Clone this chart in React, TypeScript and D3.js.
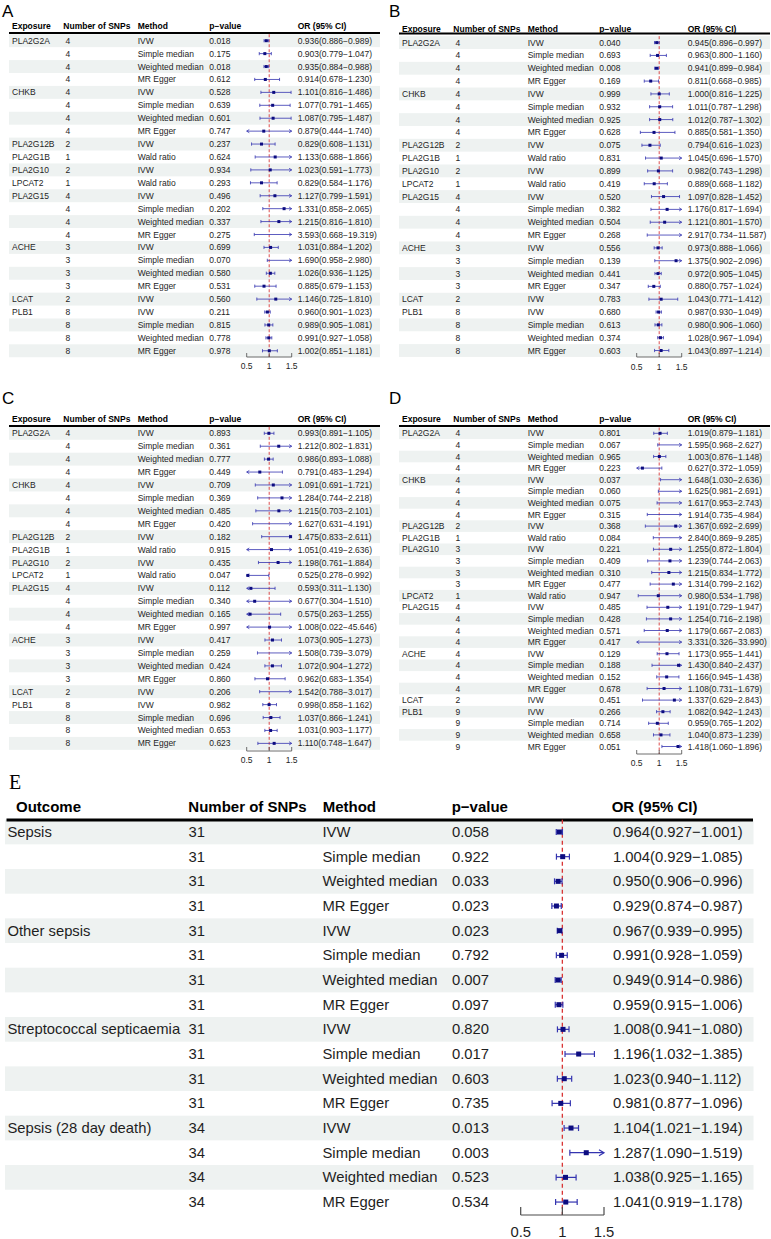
import React from "react";
import * as d3 from "d3";

/* DATA */
const xDomain = [0.5, 1.5];
const axisTicks = [0.5, 1, 1.5];
const headersAD = ["Exposure", "Number of SNPs", "Method", "p\u2212value", "OR (95% CI)"];
const headersE = ["Outcome", "Number of SNPs", "Method", "p\u2212value", "OR (95% CI)"];

// panels A, B, C share the same exposure / method layout
const abcExposure = ["PLA2G2A", "", "", "", "CHKB", "", "", "", "PLA2G12B", "PLA2G1B", "PLA2G10", "LPCAT2", "PLA2G15", "", "", "", "ACHE", "", "", "", "LCAT", "PLB1", "", "", ""];
const abcSnps = [4, 4, 4, 4, 4, 4, 4, 4, 2, 1, 2, 1, 4, 4, 4, 4, 3, 3, 3, 3, 2, 8, 8, 8, 8];
const abcMethod = ["IVW", "Simple median", "Weighted median", "MR Egger", "IVW", "Simple median", "Weighted median", "MR Egger", "IVW", "Wald ratio", "IVW", "Wald ratio", "IVW", "Simple median", "Weighted median", "MR Egger", "IVW", "Simple median", "Weighted median", "MR Egger", "IVW", "IVW", "Simple median", "Weighted median", "MR Egger"];

const aP = [0.018, 0.175, 0.018, 0.612, 0.528, 0.639, 0.601, 0.747, 0.237, 0.624, 0.934, 0.293, 0.496, 0.202, 0.337, 0.275, 0.699, 0.070, 0.580, 0.531, 0.560, 0.211, 0.815, 0.778, 0.978];
const aOr = [0.936, 0.903, 0.935, 0.914, 1.101, 1.077, 1.087, 0.879, 0.829, 1.133, 1.023, 0.829, 1.127, 1.331, 1.215, 3.593, 1.031, 1.690, 1.026, 0.885, 1.146, 0.960, 0.989, 0.991, 1.002];
const aLo = [0.886, 0.779, 0.884, 0.678, 0.816, 0.791, 0.795, 0.444, 0.608, 0.688, 0.591, 0.584, 0.799, 0.858, 0.816, 0.668, 0.884, 0.958, 0.936, 0.679, 0.725, 0.901, 0.905, 0.927, 0.851];
const aHi = [0.989, 1.047, 0.988, 1.230, 1.486, 1.465, 1.487, 1.740, 1.131, 1.866, 1.773, 1.176, 1.591, 2.065, 1.810, 19.319, 1.202, 2.980, 1.125, 1.153, 1.810, 1.023, 1.081, 1.058, 1.181];

const bP = [0.040, 0.693, 0.008, 0.169, 0.999, 0.932, 0.925, 0.628, 0.075, 0.831, 0.899, 0.419, 0.520, 0.382, 0.504, 0.268, 0.556, 0.139, 0.441, 0.347, 0.783, 0.680, 0.613, 0.374, 0.603];
const bOr = [0.945, 0.963, 0.941, 0.811, 1.000, 1.011, 1.012, 0.885, 0.794, 1.045, 0.982, 0.889, 1.097, 1.176, 1.121, 2.917, 0.973, 1.375, 0.972, 0.880, 1.043, 0.987, 0.980, 1.028, 1.043];
const bLo = [0.896, 0.800, 0.899, 0.668, 0.816, 0.787, 0.787, 0.581, 0.616, 0.696, 0.743, 0.668, 0.828, 0.817, 0.801, 0.734, 0.888, 0.902, 0.905, 0.757, 0.771, 0.930, 0.906, 0.967, 0.897];
const bHi = [0.997, 1.160, 0.984, 0.985, 1.225, 1.298, 1.302, 1.350, 1.023, 1.570, 1.298, 1.182, 1.452, 1.694, 1.570, 11.587, 1.066, 2.096, 1.045, 1.024, 1.412, 1.049, 1.060, 1.094, 1.214];

const cP = [0.893, 0.361, 0.777, 0.449, 0.709, 0.369, 0.485, 0.420, 0.182, 0.915, 0.435, 0.047, 0.112, 0.340, 0.165, 0.997, 0.417, 0.259, 0.424, 0.860, 0.206, 0.982, 0.696, 0.653, 0.623];
const cOr = [0.993, 1.212, 0.986, 0.791, 1.091, 1.284, 1.215, 1.627, 1.475, 1.051, 1.198, 0.525, 0.593, 0.677, 0.575, 1.008, 1.073, 1.508, 1.072, 0.962, 1.542, 0.998, 1.037, 1.031, 1.110];
const cLo = [0.891, 0.802, 0.893, 0.483, 0.691, 0.744, 0.703, 0.631, 0.833, 0.419, 0.761, 0.278, 0.311, 0.304, 0.263, 0.022, 0.905, 0.739, 0.904, 0.683, 0.788, 0.858, 0.866, 0.903, 0.748];
const cHi = [1.105, 1.831, 1.088, 1.294, 1.721, 2.218, 2.101, 4.191, 2.611, 2.636, 1.884, 0.992, 1.130, 1.510, 1.255, 45.646, 1.273, 3.079, 1.272, 1.354, 3.017, 1.162, 1.241, 1.177, 1.647];

const dExposure = ["PLA2G2A", "", "", "", "CHKB", "", "", "", "PLA2G12B", "PLA2G1B", "PLA2G10", "", "", "", "LPCAT2", "PLA2G15", "", "", "", "ACHE", "", "", "", "LCAT", "PLB1", "", "", ""];
const dSnps = [4, 4, 4, 4, 4, 4, 4, 4, 2, 1, 3, 3, 3, 3, 1, 4, 4, 4, 4, 4, 4, 4, 4, 2, 9, 9, 9, 9];
const dMethod = ["IVW", "Simple median", "Weighted median", "MR Egger", "IVW", "Simple median", "Weighted median", "MR Egger", "IVW", "Wald ratio", "IVW", "Simple median", "Weighted median", "MR Egger", "Wald ratio", "IVW", "Simple median", "Weighted median", "MR Egger", "IVW", "Simple median", "Weighted median", "MR Egger", "IVW", "IVW", "Simple median", "Weighted median", "MR Egger"];
const dP = [0.801, 0.067, 0.965, 0.223, 0.037, 0.060, 0.075, 0.315, 0.368, 0.084, 0.221, 0.409, 0.310, 0.477, 0.947, 0.485, 0.428, 0.571, 0.417, 0.129, 0.188, 0.152, 0.678, 0.451, 0.266, 0.714, 0.658, 0.051];
const dOr = [1.019, 1.595, 1.003, 0.627, 1.648, 1.625, 1.617, 1.914, 1.367, 2.840, 1.255, 1.239, 1.215, 1.314, 0.980, 1.191, 1.254, 1.179, 3.331, 1.173, 1.430, 1.166, 1.108, 1.337, 1.082, 0.959, 1.040, 1.418];
const dLo = [0.879, 0.968, 0.876, 0.372, 1.030, 0.981, 0.953, 0.735, 0.692, 0.869, 0.872, 0.744, 0.834, 0.799, 0.534, 0.729, 0.716, 0.667, 0.326, 0.955, 0.840, 0.945, 0.731, 0.629, 0.942, 0.765, 0.873, 1.060];
const dHi = [1.181, 2.627, 1.148, 1.059, 2.636, 2.691, 2.743, 4.984, 2.699, 9.285, 1.804, 2.063, 1.772, 2.162, 1.798, 1.947, 2.198, 2.083, 33.990, 1.441, 2.437, 1.438, 1.679, 2.843, 1.243, 1.202, 1.239, 1.896];

const eOutcome = ["Sepsis", "", "", "", "Other sepsis", "", "", "", "Streptococcal septicaemia", "", "", "", "Sepsis (28 day death)", "", "", ""];
const eSnps = [31, 31, 31, 31, 31, 31, 31, 31, 31, 31, 31, 31, 34, 34, 34, 34];
const eMethod = ["IVW", "Simple median", "Weighted median", "MR Egger", "IVW", "Simple median", "Weighted median", "MR Egger", "IVW", "Simple median", "Weighted median", "MR Egger", "IVW", "Simple median", "Weighted median", "MR Egger"];
const eP = [0.058, 0.922, 0.033, 0.023, 0.023, 0.792, 0.007, 0.097, 0.820, 0.017, 0.603, 0.735, 0.013, 0.003, 0.523, 0.534];
const eOr = [0.964, 1.004, 0.950, 0.929, 0.967, 0.991, 0.949, 0.959, 1.008, 1.196, 1.023, 0.981, 1.104, 1.287, 1.038, 1.041];
const eLo = [0.927, 0.929, 0.906, 0.874, 0.939, 0.928, 0.914, 0.915, 0.941, 1.032, 0.940, 0.877, 1.021, 1.090, 0.925, 0.919];
const eHi = [1.001, 1.085, 0.996, 0.987, 0.995, 1.059, 0.986, 1.006, 1.080, 1.385, 1.112, 1.096, 1.194, 1.519, 1.165, 1.178];

/* STYLE */
const SANS = "'Liberation Sans', Arial, sans-serif";
const STRIPE = "#eef2f1";
const CI_COL = "#3434b0";
const BOX_COL = "#0c0c80";
const REF_COL = "#d93636";
const TXT = "#1e1e1e";

const f3 = d3.format(".3f");

interface Row {
  group: string;
  snps: number;
  method: string;
  p: number;
  or: number;
  lo: number;
  hi: number;
}

const makeRows = (g: string[], s: number[], m: string[], p: number[], or: number[], lo: number[], hi: number[]): Row[] =>
  d3.range(g.length).map((i) => ({ group: g[i], snps: s[i], method: m[i], p: p[i], or: or[i], lo: lo[i], hi: hi[i] }));

interface Cfg {
  headers: string[];
  hdrX: number[];
  bodyX: number[];
  headerY: number;
  lineY: number;
  lineX: [number, number];
  stripeX: [number, number];
  row0: number;
  step: number;
  axisY: number;
  labelY: number;
  plotX: [number, number];
  font: number;
  headFont: number;
  lineW: number;
  box: number;
  cap: number;
  arrow: number;
  ciW: number;
  tick: number;
  dash: string;
}

function Forest({ cfg, rows }: { cfg: Cfg; rows: Row[] }) {
  const x = d3.scaleLinear().domain(xDomain).range(cfg.plotX);
  const top = cfg.row0 - cfg.step / 2;
  const y = d3
    .scaleBand<number>()
    .domain(d3.range(rows.length))
    .range([top, top + rows.length * cfg.step]);
  const bw = y.bandwidth();
  const [lo0, hi0] = xDomain;
  const a = cfg.arrow;
  const c = cfg.cap;

  return (
    <g fontFamily={SANS}>
      {/* header */}
      {cfg.headers.map((h, i) => (
        <text key={h} x={cfg.hdrX[i]} y={cfg.headerY} fontSize={cfg.headFont} fontWeight="bold" fill="#000" dominantBaseline="central">
          {h}
        </text>
      ))}
      {/* stripes */}
      {rows.map((r, i) =>
        i % 2 === 0 ? (
          <rect key={"s" + i} x={cfg.stripeX[0]} y={y(i)} width={cfg.stripeX[1] - cfg.stripeX[0]} height={bw} fill={STRIPE} />
        ) : null
      )}
      <line x1={cfg.lineX[0]} x2={cfg.lineX[1]} y1={cfg.lineY} y2={cfg.lineY} stroke="#000" strokeWidth={cfg.lineW} />
      {/* text cells */}
      {rows.map((r, i) => {
        const cy = (y(i) as number) + bw / 2;
        const cells = [r.group, String(r.snps), r.method, f3(r.p), `${f3(r.or)}(${f3(r.lo)}\u2212${f3(r.hi)})`];
        return (
          <g key={"t" + i} fontSize={cfg.font} fill={TXT}>
            {cells.map((t, j) => (
              <text key={j} x={cfg.bodyX[j]} y={cy} dominantBaseline="central">
                {t}
              </text>
            ))}
          </g>
        );
      })}
      {/* reference line */}
      <line x1={x(1)} x2={x(1)} y1={top} y2={cfg.axisY} stroke={REF_COL} strokeWidth={cfg.ciW * 1.1} strokeDasharray={cfg.dash} />
      {/* CIs */}
      {rows.map((r, i) => {
        const cy = (y(i) as number) + bw / 2;
        const l = Math.max(r.lo, lo0);
        const h = Math.min(r.hi, hi0);
        const xl = x(l);
        const xh = x(h);
        return (
          <g key={"c" + i} stroke={CI_COL} strokeWidth={cfg.ciW} fill="none">
            <line x1={xl} x2={xh} y1={cy} y2={cy} />
            {r.lo >= lo0 ? (
              <line x1={xl} x2={xl} y1={cy - c} y2={cy + c} />
            ) : (
              <path d={`M${xl + a},${cy - c}L${xl},${cy}L${xl + a},${cy + c}`} />
            )}
            {r.hi <= hi0 ? (
              <line x1={xh} x2={xh} y1={cy - c} y2={cy + c} />
            ) : (
              <path d={`M${xh - a},${cy - c}L${xh},${cy}L${xh - a},${cy + c}`} />
            )}
            {r.or >= lo0 && r.or <= hi0 ? (
              <rect x={x(r.or) - cfg.box / 2} y={cy - cfg.box / 2} width={cfg.box} height={cfg.box} fill={BOX_COL} stroke="none" />
            ) : null}
          </g>
        );
      })}
      {/* axis */}
      <g stroke="#4a4a4a" strokeWidth={cfg.ciW}>
        <line x1={x(lo0)} x2={x(hi0)} y1={cfg.axisY} y2={cfg.axisY} />
        {axisTicks.map((t) => (
          <line key={t} x1={x(t)} x2={x(t)} y1={cfg.axisY} y2={cfg.axisY - cfg.tick} />
        ))}
      </g>
      {axisTicks.map((t) => (
        <text key={"l" + t} x={x(t)} y={cfg.labelY} fontSize={cfg.font} textAnchor="middle" dominantBaseline="central" fill={TXT}>
          {String(t)}
        </text>
      ))}
    </g>
  );
}

const small = (dx: number, o: Partial<Cfg>): Cfg => ({
  headers: headersAD,
  hdrX: [12, 63.3, 137.7, 209.3, 297.7].map((v) => v + dx),
  bodyX: [12, 65.5, 137.7, 209.3, 297.7].map((v) => v + dx),
  headerY: 26,
  lineY: 33,
  lineX: [9 + dx, 380 + dx],
  stripeX: [9 + dx, 380 + dx],
  row0: 40.7,
  step: 12.92,
  axisY: 357,
  labelY: 366,
  plotX: [246.7 + dx, 291.7 + dx],
  font: 8.5,
  headFont: 8.5,
  lineW: 2,
  box: 3,
  cap: 1.6,
  arrow: 2.6,
  ciW: 0.8,
  tick: 4,
  dash: "3,2",
  ...o,
});

const cfgA = small(0, {});
const cfgB = small(390, { headerY: 28.5, lineY: 33.5, row0: 42.6, step: 12.83, axisY: 357, labelY: 366.5 });
const cfgC = small(0, { headerY: 419.3, lineY: 426, row0: 433.3, step: 12.92, axisY: 751, labelY: 760 });
const cfgD = small(390, { headerY: 419.3, lineY: 426, row0: 433.3, step: 11.6, axisY: 754, labelY: 762.7 });

const cfgE: Cfg = {
  headers: headersE,
  hdrX: [16, 188.3, 322.7, 451.7, 611.7],
  bodyX: [7.4, 188.6, 322.5, 452, 613],
  headerY: 806,
  lineY: 820,
  lineX: [6.5, 753],
  stripeX: [5, 753.5],
  row0: 832,
  step: 24.67,
  axisY: 1215,
  labelY: 1231.7,
  plotX: [520.7, 604],
  font: 14.8,
  headFont: 15,
  lineW: 3,
  box: 5,
  cap: 3,
  arrow: 5,
  ciW: 1.2,
  tick: 8,
  dash: "4,3",
};

const rowsA = makeRows(abcExposure, abcSnps, abcMethod, aP, aOr, aLo, aHi);
const rowsB = makeRows(abcExposure, abcSnps, abcMethod, bP, bOr, bLo, bHi);
const rowsC = makeRows(abcExposure, abcSnps, abcMethod, cP, cOr, cLo, cHi);
const rowsD = makeRows(dExposure, dSnps, dMethod, dP, dOr, dLo, dHi);
const rowsE = makeRows(eOutcome, eSnps, eMethod, eP, eOr, eLo, eHi);

export default function App() {
  return (
    <svg width={771} height={1239} style={{ position: "absolute", left: 0, top: 0, background: "#fff" }}>
      <rect width={771} height={1239} fill="#fff" />
      <g fontFamily={SANS} fontSize={17} fill="#000">
        <text x={2} y={17}>A</text>
        <text x={389} y={17}>B</text>
        <text x={2} y={403.5}>C</text>
        <text x={389} y={403.5}>D</text>
      </g>
      <text x={9} y={788.5} fontFamily="'Liberation Serif', 'Times New Roman', serif" fontSize={20} fill="#000">
        E
      </text>
      <Forest cfg={cfgA} rows={rowsA} />
      <Forest cfg={cfgB} rows={rowsB} />
      <Forest cfg={cfgC} rows={rowsC} />
      <Forest cfg={cfgD} rows={rowsD} />
      <Forest cfg={cfgE} rows={rowsE} />
    </svg>
  );
}
